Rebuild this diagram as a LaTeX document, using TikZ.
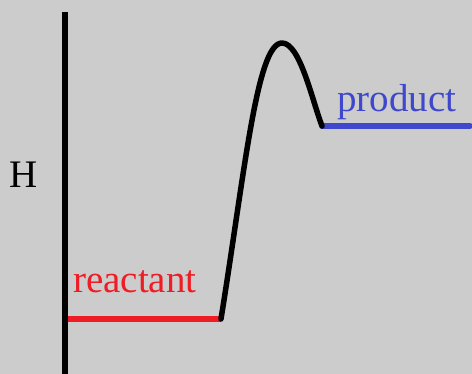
\documentclass[tikz,border=0pt]{standalone}
\usepackage{fontspec}
\setmainfont{Liberation Serif}
\definecolor{bg}{HTML}{CCCCCC}
\definecolor{rred}{HTML}{EE1C24}
\definecolor{pblue}{HTML}{3F48CC}
\tikzset{
  lbl/.style={inner sep=0pt, anchor=base west, font=\fontsize{39}{42}\selectfont},
  thick5/.style={line width=5.5pt},
}
\begin{document}
\begin{tikzpicture}[x=1pt,y=-1pt]
\fill[bg] (0,0) rectangle (472,374);
\useasboundingbox (0,0) rectangle (472,374);
\coordinate (axtop) at (65,12);
\coordinate (axbot) at (65,374);
\coordinate (rs) at (68,319);
\coordinate (re) at (221,319);
\coordinate (peak) at (282,43);
\coordinate (ps) at (322,126);
\coordinate (pe) at (470,126);
\draw[thick5, black] (axtop) -- (axbot);
\draw[thick5, rred] (rs) -- (re);
\draw[thick5, pblue, line cap=round] (ps) -- (pe);
\draw[thick5, black, line cap=round, line join=round] (re) .. controls (245,170) and (257,43) .. (peak) .. controls (300,43) and (312,100) .. (ps);
\node[lbl] (H) at (9,188) {H};
\node[lbl, text=rred] (react) at (73,293) {reactant};
\node[lbl, text=pblue] (prod) at (337,112) {product};
\end{tikzpicture}
\end{document}
